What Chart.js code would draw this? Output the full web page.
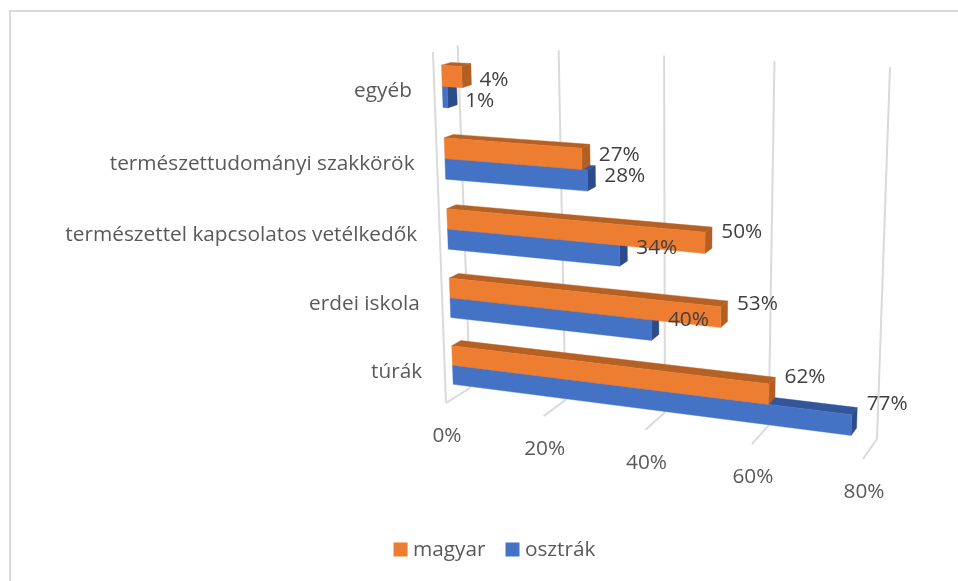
<!DOCTYPE html>
<html><head><meta charset="utf-8">
<script src="https://cdn.jsdelivr.net/npm/chart.js@4"></script>
<style>html,body{margin:0;padding:0;background:#fff}#w{width:958px;height:581px;position:relative}</style>
</head><body><div id="w"><canvas id="c"></canvas></div>
<script>
const categories = ['egyéb','természettudományi szakkörök','természettel kapcsolatos vetélkedők','erdei iskola','túrák'];
const magyar = [4,27,50,53,62];
const osztrak = [1,28,34,40,77];
const seriesNames = ['magyar','osztrák'];
const FONT = '"Open Sans"';
const FONT_SIZE = 20.8;

// Perspective box: corners of the front and back planes (topLeft, topRight, bottomRight, bottomLeft)
const boxFront = [[433,52],[876,78],[863,459],[446,403]];
const boxBack  = [[457.7,45],[890,67],[877,439],[470,388]];
const barFrontDepth = 0.32, barBackDepth = 0.70;

function lerpQuad(d){return boxFront.map((p,i)=>[p[0]+(boxBack[i][0]-p[0])*d,p[1]+(boxBack[i][1]-p[1])*d]);}
function homography(q){
  const [x0,y0]=q[0],[x1,y1]=q[1],[x2,y2]=q[2],[x3,y3]=q[3];
  const dx1=x1-x2,dx2=x3-x2,dx3=x0-x1+x2-x3,dy1=y1-y2,dy2=y3-y2,dy3=y0-y1+y2-y3;
  const den=dx1*dy2-dx2*dy1;
  const g=(dx3*dy2-dx2*dy3)/den,h=(dx1*dy3-dx3*dy1)/den;
  const a=x1-x0+g*x1,b=x3-x0+h*x3,d=y1-y0+g*y1,e=y3-y0+h*y3;
  return (s,t)=>{const w=g*s+h*t+1;return [(a*s+b*t+x0)/w,(d*s+e*t+y0)/w];};
}
function poly(ctx,pts,fill){ctx.beginPath();pts.forEach((p,i)=>i?ctx.lineTo(p[0],p[1]):ctx.moveTo(p[0],p[1]));ctx.closePath();ctx.fillStyle=fill;ctx.fill();ctx.strokeStyle=fill;ctx.lineWidth=0.4;ctx.stroke();}

const shades=[{front:'#ED7D31',top:'#B66024',side:'#B35E23'},{front:'#4472C4',top:'#33569A',side:'#2B4C88'}];

const persp3d={
  id:'persp3d',
  beforeDatasetsDraw(chart){
    const ctx=chart.ctx,A=chart.chartArea,X=chart.scales.x,Y=chart.scales.y;
    const S=px=>(px-A.left)/(A.right-A.left),T=py=>(py-A.top)/(A.bottom-A.top);
    const Hf=homography(boxFront),Hb=homography(boxBack);
    const H1=homography(lerpQuad(barFrontDepth)),H2=homography(lerpQuad(barBackDepth));
    ctx.save();
    // chart frame: only the top and left edges are inside the picture
    ctx.strokeStyle='#D9D9D9';ctx.lineWidth=2;
    ctx.beginPath();ctx.moveTo(10,581);ctx.lineTo(10,11);ctx.lineTo(958,11);ctx.stroke();
    // grid
    ctx.strokeStyle='#DADADA';ctx.lineWidth=2;
    const line=(a,b)=>{ctx.beginPath();ctx.moveTo(a[0],a[1]);ctx.lineTo(b[0],b[1]);ctx.stroke();};
    X.ticks.forEach(tk=>{
      const s=S(X.getPixelForValue(tk.value));
      line(Hb(s,0),Hb(s,1));line(Hb(s,1),Hf(s,1));
    });
    line(Hf(0,0),Hf(0,1));
    // bars (blue behind orange)
    [1,0].forEach(di=>{
      const c=shades[di];
      chart.getDatasetMeta(di).data.forEach(el=>{
        const p=el.getProps(['x','y','base','height'],true);
        const s0=S(p.base),s1=S(p.x),t0=T(p.y-p.height/2),t1=T(p.y+p.height/2);
        poly(ctx,[H1(s0,t0),H1(s1,t0),H2(s1,t0),H2(s0,t0)],c.top);
        poly(ctx,[H1(s1,t0),H1(s1,t1),H2(s1,t1),H2(s1,t0)],c.side);
        poly(ctx,[H1(s0,t0),H1(s1,t0),H1(s1,t1),H1(s0,t1)],c.front);
      });
    });
    // data labels
    ctx.font=FONT_SIZE+'px '+FONT;ctx.fillStyle='#404040';ctx.textAlign='left';ctx.textBaseline='middle';
    chart.data.datasets.forEach((ds,di)=>{
      chart.getDatasetMeta(di).data.forEach((el,i)=>{
        const p=el.getProps(['x','y'],true);
        const a=Hb(S(p.x),T(p.y)),v=ds.data[i];
        ctx.fillText(v+'%',a[0]+0.8+0.06*v,a[1]+9.5-0.23*v);
      });
    });
    // axis labels
    ctx.fillStyle='#595959';ctx.textAlign='right';
    Y.ticks.forEach((tk,i)=>{
      const a=Hf(0,T(Y.getPixelForTick(i)));
      ctx.fillText(categories[i],a[0]-22.5,a[1]+2.5);
    });
    ctx.textAlign='center';
    X.ticks.forEach(tk=>{
      const a=Hf(S(X.getPixelForValue(tk.value)),1);
      ctx.fillText(tk.label,a[0]+1,a[1]+33);
    });
    ctx.restore();
    return false;
  }
};

new Chart(document.getElementById('c'),{
  type:'bar',
  plugins:[persp3d],
  data:{labels:categories,datasets:[
    {label:seriesNames[0],data:magyar,backgroundColor:'#ED7D31',borderColor:'#ED7D31',borderWidth:10},
    {label:seriesNames[1],data:osztrak,backgroundColor:'#4472C4',borderColor:'#4472C4',borderWidth:10}
  ]},
  options:{
    indexAxis:'y',responsive:true,maintainAspectRatio:false,animation:false,
    categoryPercentage:0.58,barPercentage:1,
    layout:{padding:{left:36,right:0,top:20,bottom:11}},
    scales:{
      x:{display:false,min:0,max:80,ticks:{stepSize:20,callback:v=>v+'%'}},
      y:{display:false}
    },
    plugins:{
      tooltip:{enabled:false},
      legend:{position:'bottom',labels:{boxWidth:4,boxHeight:4,padding:25,color:'#595959',font:{family:FONT,size:FONT_SIZE}}}
    }
  }
});
</script></body></html>
